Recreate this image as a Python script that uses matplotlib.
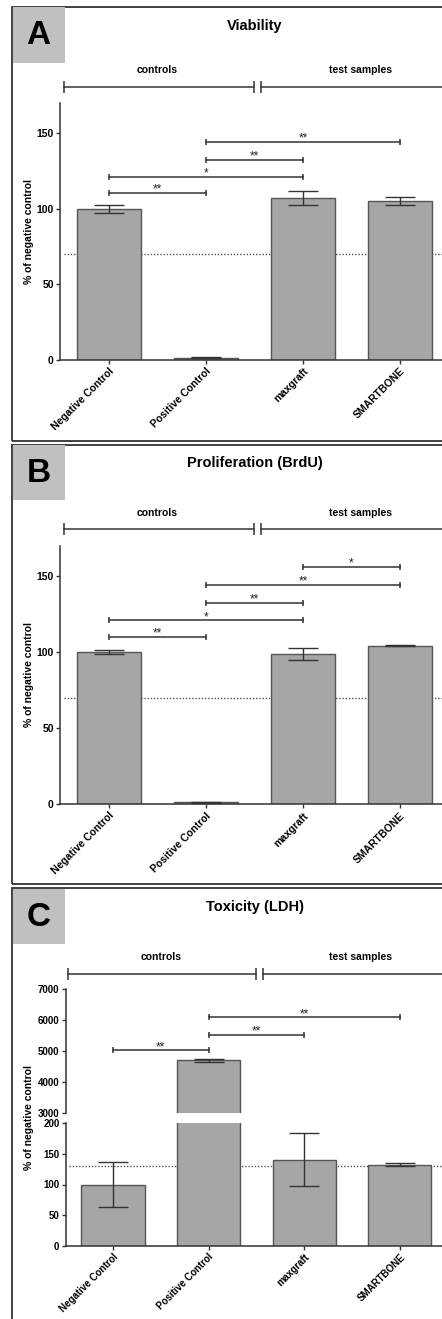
import matplotlib
matplotlib.use("Agg")
import matplotlib.pyplot as plt
import matplotlib.patches as mpatches
import matplotlib.transforms as mtransforms
import numpy as np

plt.rcParams['font.family'] = ['Liberation Sans', 'DejaVu Sans']
plt.rcParams['font.weight'] = 'bold'

# ======================== DATA ========================
categories = ["Negative Control", "Positive Control", "maxgraft", "SMARTBONE"]

viability_mean = [100, 1.5, 107, 105]
viability_sd = [2.7, 0.5, 4.8, 2.7]
viability_sig = [(0, 1, 110.4, "**"), (0, 2, 121, "*"), (1, 2, 132.5, "**"), (1, 3, 144, "**")]

prolif_mean = [100, 1.2, 98.8, 104.3]
prolif_sd = [1.4, 0.4, 3.8, 0.3]
prolif_sig = [(0, 1, 110, "**"), (0, 2, 121, "*"), (1, 2, 132.6, "**"),
              (1, 3, 144.5, "**"), (2, 3, 156.5, "*")]

ldh_mean = [100, 4700, 140.8, 132.5]
ldh_sd = [36, 50, 44, 2]
ldh_sig = [(0, 1, 5020, "**"), (1, 2, 5510, "**"), (1, 3, 6080, "**")]

threshold_viab = 70
threshold_prolif = 70
threshold_ldh = 130

# name, bracket start, bracket end, label centre (category units)
groups = [("controls", -0.465, 1.5, 0.5), ("test samples", 1.567, 3.7, 2.59)]

# ======================== STYLE ========================
W, H = 442, 1319
BAR_COLOR = '#a6a6a6'
EDGE = '#555555'
DARK = '#333333'
BOX = '#c0c0c0'


def px_rect(x0, y0, x1, y1):
    return [x0 / W, 1 - y1 / H, (x1 - x0) / W, (y1 - y0) / H]


fig = plt.figure(figsize=(W / 100, H / 100), dpi=100)


def panel_frame(letter, title, top, bottom):
    rect = mpatches.Rectangle((12 / W, 1 - bottom / H), 500 / W, (bottom - top) / H,
                              transform=fig.transFigure, fill=False,
                              edgecolor=DARK, lw=1.3)
    fig.add_artist(rect)
    box = mpatches.Rectangle((12.7 / W, 1 - (top + 55.5) / H), 52.5 / W, 55 / H,
                             transform=fig.transFigure, facecolor=BOX,
                             edgecolor='none')
    fig.add_artist(box)
    fig.text(38.5 / W, 1 - (top + 29) / H, letter, fontsize=24, fontweight='bold',
             ha='center', va='center')
    fig.text(255 / W, 1 - (top + 19) / H, title, fontsize=10.5, fontweight='bold',
             ha='center', va='center')


def style_axis(ax, fs=7.5):
    for s in ['top', 'right']:
        ax.spines[s].set_visible(False)
    for s in ['left', 'bottom']:
        ax.spines[s].set_color(DARK)
        ax.spines[s].set_linewidth(1.1)
    ax.tick_params(axis='both', direction='out', length=3, width=1, color=DARK,
                   pad=1.5, labelsize=fs)
    for lab in ax.get_yticklabels():
        lab.set_fontweight('bold')


def draw_bars(ax, means, sds, threshold):
    x = np.arange(len(categories))
    ax.axhline(threshold, xmin=0.01, xmax=1, color='#555555', ls=(0, (1, 1.3)),
               lw=1, zorder=1)
    ax.bar(x, means, width=0.66, color=BAR_COLOR, edgecolor=EDGE, lw=1, zorder=2)
    ax.errorbar(x, means, yerr=sds, fmt='none', ecolor=DARK, elinewidth=1,
                capsize=11, capthick=1, zorder=3)


def draw_sig(ax, sig):
    for a, b, y, stars in sig:
        ax.plot([a, b], [y, y], color=DARK, lw=1.1, marker='|', markersize=4.5,
                markeredgewidth=1.1, clip_on=False, zorder=4)
        ax.annotate(stars, xy=((a + b) / 2, y), xytext=(0, 0.3),
                    textcoords='offset points', ha='center', va='baseline',
                    fontsize=8.5, fontweight='normal', color='#222222')


def draw_groups(ax, y_line, y_text):
    trans = mtransforms.blended_transform_factory(ax.transData, ax.transAxes)
    for name, x0, x1, xc in groups:
        ax.plot([x0, x1], [y_line, y_line], color=DARK, lw=1.1, marker='|',
                markersize=9, markeredgewidth=1.1, transform=trans, clip_on=False)
        ax.text(xc, y_text, name, transform=trans, ha='center', va='center',
                fontsize=7.5, fontweight='bold')


def xlabels(ax, fs=7):
    ax.set_xticks(np.arange(len(categories)))
    ax.set_xticklabels(categories, rotation=45, ha='right', rotation_mode='anchor',
                       fontsize=fs, fontweight='bold')


# ======================== PANEL A ========================
panel_frame("A", "Viability", 7, 441)
axA = fig.add_axes(px_rect(60, 103, 442, 360))
draw_bars(axA, viability_mean, viability_sd, threshold_viab)
draw_sig(axA, viability_sig)
axA.set_xlim(-0.505, 3.433)
axA.set_ylim(0, 170)
axA.set_yticks([0, 50, 100, 150])
xlabels(axA)
style_axis(axA)
draw_groups(axA, 1.0635, 1.128)
fig.text(29 / W, 1 - 231.5 / H, "% of negative control", rotation=90, fontsize=7.5,
         fontweight='bold', ha='center', va='center')

# ======================== PANEL B ========================
panel_frame("B", "Proliferation (BrdU)", 444.5, 884)
axB = fig.add_axes(px_rect(60, 546, 442, 804.3))
draw_bars(axB, prolif_mean, prolif_sd, threshold_prolif)
draw_sig(axB, prolif_sig)
axB.set_xlim(-0.505, 3.433)
axB.set_ylim(0, 170)
axB.set_yticks([0, 50, 100, 150])
xlabels(axB)
style_axis(axB)
draw_groups(axB, 1.066, 1.128)
fig.text(29 / W, 1 - 675 / H, "% of negative control", rotation=90, fontsize=7.5,
         fontweight='bold', ha='center', va='center')

# ======================== PANEL C ========================
panel_frame("C", "Toxicity (LDH)", 888, 1340)
axCt = fig.add_axes(px_rect(65.7, 988.7, 442, 1113.3))
axCb = fig.add_axes(px_rect(65.7, 1123.3, 442, 1245.7))
x = np.arange(len(categories))
axCt.bar(x, ldh_mean, width=0.66, color=BAR_COLOR, edgecolor=EDGE, lw=1, zorder=2)
axCt.errorbar(x, ldh_mean, yerr=ldh_sd, fmt='none', ecolor=DARK, elinewidth=1,
              capsize=11, capthick=1, zorder=3)
draw_sig(axCt, ldh_sig)
axCt.set_xlim(-0.494, 3.44)
axCt.set_ylim(3000, 7000)
axCt.set_yticks([3000, 4000, 5000, 6000, 7000])
style_axis(axCt, fs=7)
axCt.spines['bottom'].set_visible(False)
axCt.set_xticks([])
draw_groups(axCt, 1.12, 1.257)

draw_bars(axCb, ldh_mean, ldh_sd, threshold_ldh)
axCb.set_xlim(-0.494, 3.44)
axCb.set_ylim(0, 200)
axCb.set_yticks([0, 50, 100, 150, 200])
xlabels(axCb)
style_axis(axCb, fs=7)
fig.text(29 / W, 1 - 1117 / H, "% of negative control", rotation=90, fontsize=7.5,
         fontweight='bold', ha='center', va='center')

fig.savefig("out.png", dpi=100)
